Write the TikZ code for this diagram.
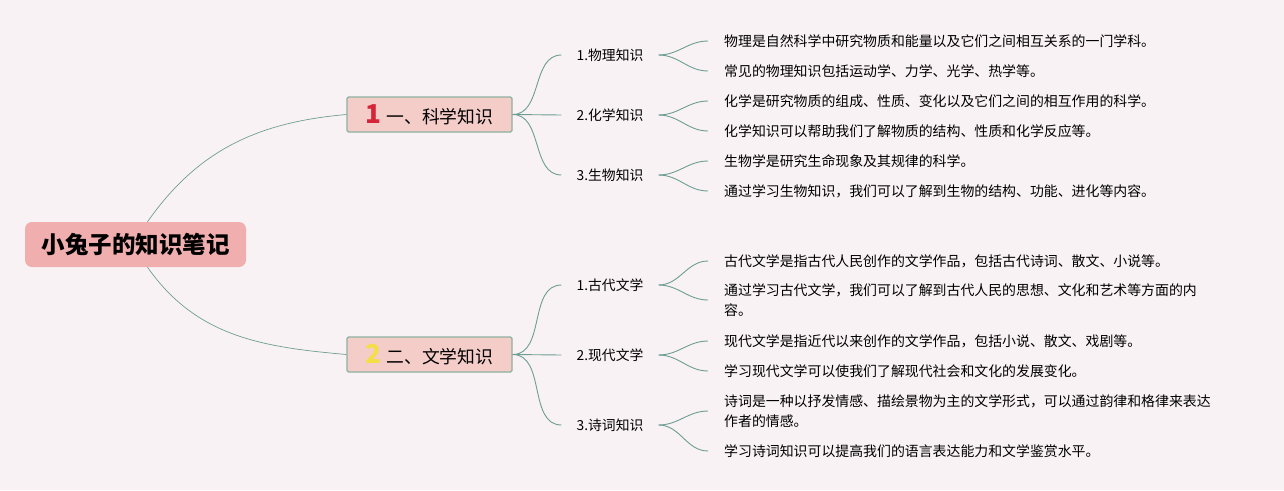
\documentclass[tikz,border=0pt]{standalone}
\usepackage{fontspec}
\setmainfont{Noto Sans CJK SC}
\usepackage{tikz}
\definecolor{paper}{RGB}{249,242,244}
\definecolor{rootfill}{RGB}{240,174,174}
\definecolor{topicfill}{RGB}{245,205,200}
\definecolor{topicline}{RGB}{140,176,160}
\definecolor{branch}{RGB}{108,158,146}
\definecolor{numred}{RGB}{214,36,56}
\definecolor{numyellow}{RGB}{244,222,70}

\begin{document}
\begin{tikzpicture}[
			x=1pt, y=-1pt,
			root/.style={fill=rootfill, rounded corners=7pt, minimum width=221pt, minimum height=45pt,
				inner sep=0pt, font=\fontsize{23.5}{27}\selectfont\bfseries},
			topic/.style={fill=topicfill, draw=topicline, line width=1.2pt, rounded corners=1.5pt,
				minimum width=165pt, minimum height=35pt, inner sep=0pt, font=\fontsize{17.8}{20}\selectfont},
			sub/.style={inner xsep=15pt, inner ysep=2pt, font=\fontsize{13.8}{16}\selectfont},
			leaf/.style={anchor=west, inner xsep=16pt, inner ysep=2pt, align=left,
				font=\fontsize{13.9}{19.5}\selectfont},
			link/.style={draw=branch, line width=0.7pt},
			twig/.style={draw=branch, line width=0.9pt}
			]
			
			% Background
			\fill[paper] (0,0) rectangle (1284,490);
			
			% Nodes
			\node[root]  (root) at (135.5,244.5) {小兔子的知识笔记};
			\node[topic] (sci)  at (429.5,114.5) {\textcolor{numred}{\fontsize{26}{26}\selectfont\bfseries 1}\hspace{5pt}一、科学知识};
			\node[topic] (lit)  at (429.5,354.5) {\textcolor{numyellow}{\fontsize{26}{26}\selectfont\bfseries 2}\hspace{5pt}二、文学知识};
			
			\node[sub] (phy) at (610,55)  {1.物理知识};
			\node[sub] (che) at (610,115) {2.化学知识};
			\node[sub] (bio) at (610,175) {3.生物知识};
			\node[sub] (anc) at (610,285) {1.古代文学};
			\node[sub] (mod) at (610,355) {2.现代文学};
			\node[sub] (poe) at (610,425) {3.诗词知识};
			
			\node[leaf] (phyA) at (708,41)  {物理是自然科学中研究物质和能量以及它们之间相互关系的一门学科。};
			\node[leaf] (phyB) at (708,71)  {常见的物理知识包括运动学、力学、光学、热学等。};
			\node[leaf] (cheA) at (708,101) {化学是研究物质的组成、性质、变化以及它们之间的相互作用的科学。};
			\node[leaf] (cheB) at (708,131) {化学知识可以帮助我们了解物质的结构、性质和化学反应等。};
			\node[leaf] (bioA) at (708,161) {生物学是研究生命现象及其规律的科学。};
			\node[leaf] (bioB) at (708,191) {通过学习生物知识，我们可以了解到生物的结构、功能、进化等内容。};
			\node[leaf] (ancA) at (708,261) {古代文学是指古代人民创作的文学作品，包括古代诗词、散文、小说等。};
			\node[leaf] (ancB) at (708,300) {通过学习古代文学，我们可以了解到古代人民的思想、文化和艺术等方面的内\\容。};
			\node[leaf] (modA) at (708,341) {现代文学是指近代以来创作的文学作品，包括小说、散文、戏剧等。};
			\node[leaf] (modB) at (708,371) {学习现代文学可以使我们了解现代社会和文化的发展变化。};
			\node[leaf] (poeA) at (708,411) {诗词是一种以抒发情感、描绘景物为主的文学形式，可以通过韵律和格律来表达\\作者的情感。};
			\node[leaf] (poeB) at (708,451) {学习诗词知识可以提高我们的语言表达能力和文学鉴赏水平。};
			
			% Links
			\draw[link] ([xshift=12pt]root.north) to[out=55, in=185] (sci.west);
			\draw[link] ([xshift=12pt]root.south) to[out=-55, in=175] (lit.west);
			
			\draw[twig] (sci.east) to[out=0, in=180] (phy.west);
			\draw[twig] (sci.east) -- (che.west);
			\draw[twig] (sci.east) to[out=0, in=180] (bio.west);
			\draw[twig] (lit.east) to[out=0, in=180] (anc.west);
			\draw[twig] (lit.east) -- (mod.west);
			\draw[twig] (lit.east) to[out=0, in=180] (poe.west);
			
			\draw[twig] (phy.east) to[out=0, in=180] (phyA.west);
			\draw[twig] (phy.east) to[out=0, in=180] (phyB.west);
			\draw[twig] (che.east) to[out=0, in=180] (cheA.west);
			\draw[twig] (che.east) to[out=0, in=180] (cheB.west);
			\draw[twig] (bio.east) to[out=0, in=180] (bioA.west);
			\draw[twig] (bio.east) to[out=0, in=180] (bioB.west);
			\draw[twig] (anc.east) to[out=0, in=180] (ancA.west);
			\draw[twig] (anc.east) to[out=0, in=180] (ancB.west);
			\draw[twig] (mod.east) to[out=0, in=180] (modA.west);
			\draw[twig] (mod.east) to[out=0, in=180] (modB.west);
			\draw[twig] (poe.east) to[out=0, in=180] (poeA.west);
			\draw[twig] (poe.east) to[out=0, in=180] (poeB.west);
			
		\end{tikzpicture}
\end{document}
